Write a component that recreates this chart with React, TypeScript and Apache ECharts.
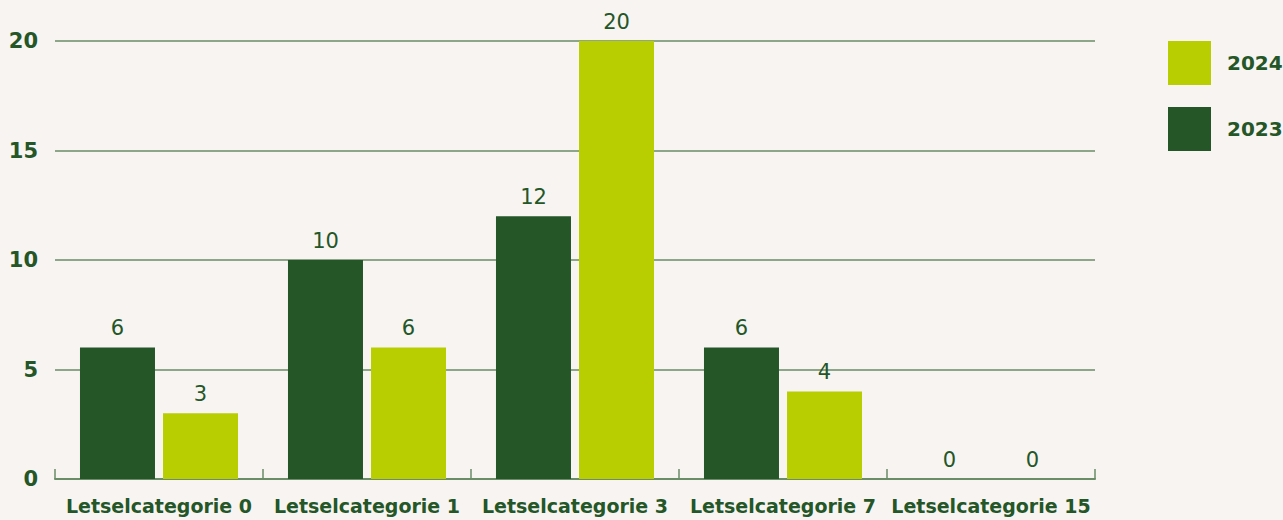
import React, { useEffect, useRef } from "react";
import * as echarts from "echarts";

const categories = ["Letselcategorie 0", "Letselcategorie 1", "Letselcategorie 3", "Letselcategorie 7", "Letselcategorie 15"];
const values2023 = [6, 10, 12, 6, 0];
const values2024 = [3, 6, 20, 4, 0];
const yTicks = { min: 0, max: 20, interval: 5 };

const DARK = "#245628";
const LIGHT = "#B9CE00";
const TEXT = "#245628";
const GRID = "#6A8C66";
const FONT = "'DejaVu Sans', 'Noto Sans', sans-serif";

export default function App() {
  const ref = useRef<HTMLDivElement>(null);
  useEffect(() => {
    const chart = echarts.init(ref.current!, undefined, { renderer: "svg" });
    chart.setOption({
      animation: false,
      backgroundColor: "#F7F4F1",
      textStyle: { fontFamily: FONT },
      grid: { left: 55, right: 188, top: 41, bottom: 41, containLabel: false },
      legend: {
        orient: "vertical",
        left: 1168,
        top: 41,
        padding: 0,
        itemWidth: 43,
        itemHeight: 44,
        itemGap: 22,
        icon: "rect",
        data: ["2024", "2023"],
        textStyle: { color: TEXT, fontSize: 20, fontWeight: 600, fontFamily: FONT, padding: [0, 0, 0, 11] },
      },
      xAxis: {
        type: "category",
        data: categories,
        axisLine: { lineStyle: { color: GRID, width: 2 } },
        axisTick: { show: true, inside: true, length: 10, lineStyle: { color: GRID, width: 1.5 } },
        axisLabel: { color: TEXT, fontSize: 19, fontWeight: 700, margin: 17, fontFamily: FONT, interval: 0 },
      },
      yAxis: {
        type: "value",
        min: yTicks.min,
        max: yTicks.max,
        interval: yTicks.interval,
        axisLine: { show: false },
        axisTick: { show: false },
        splitLine: { lineStyle: { color: GRID, width: 1.5 } },
        axisLabel: { color: TEXT, fontSize: 21, fontWeight: 600, margin: 17, fontFamily: FONT },
      },
      series: [
        {
          name: "2023",
          type: "bar",
          data: values2023,
          barWidth: 75,
          barGap: "10.7%",
          itemStyle: { color: DARK },
          label: { show: true, position: "top", distance: 9, color: TEXT, fontSize: 21, fontFamily: FONT },
        },
        {
          name: "2024",
          type: "bar",
          data: values2024,
          barWidth: 75,
          barGap: "10.7%",
          itemStyle: { color: LIGHT },
          label: { show: true, position: "top", distance: 9, color: TEXT, fontSize: 21, fontFamily: FONT },
        },
      ],
    });
    return () => chart.dispose();
  }, []);
  return <div ref={ref} style={{ position: "fixed", left: 0, top: 0, width: 1283, height: 520 }} />;
}
